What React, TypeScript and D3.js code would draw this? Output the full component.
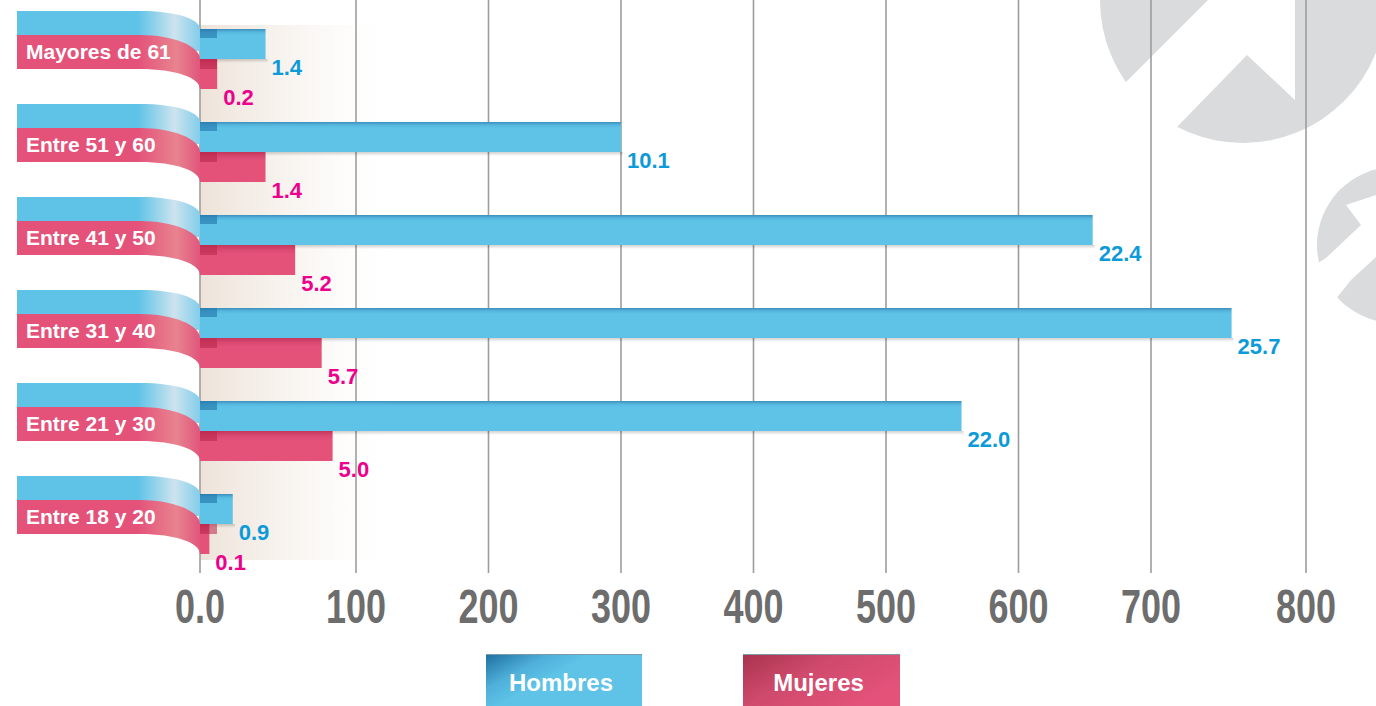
import React from "react";
import * as d3 from "d3";

const categories = ["Mayores de 61", "Entre 51 y 60", "Entre 41 y 50", "Entre 31 y 40", "Entre 21 y 30", "Entre 18 y 20"];
const hombres = [42, 300, 656, 752, 557, 21];
const mujeres = [11, 42, 61, 78, 85, 6];
const hombresLabels = ["1.4", "10.1", "22.4", "25.7", "22.0", "0.9"];
const mujeresLabels = ["0.2", "1.4", "5.2", "5.7", "5.0", "0.1"];
const tickValues = [0, 100, 200, 300, 400, 500, 600, 700, 800];
const tickLabels = ["0.0", "100", "200", "300", "400", "500", "600", "700", "800"];
const seriesNames = ["Hombres", "Mujeres"];

const FONT = "'Liberation Sans', Arial, Helvetica, sans-serif";
const BLUE = "#5ec3e7";
const PINK = "#e4527a";
const BLUE_TXT = "#0d9ad8";
const PINK_TXT = "#ec008c";
const LOGO = "#dadbdd";

export default function App() {
  const x = d3.scaleLinear().domain([0, 100, 700, 800]).range([200, 356, 1151, 1306]);
  const y = d3.scaleBand<string>().domain(categories).range([11, 569]);
  const x0 = x(0);

  const bluePath = (T: number) =>
    `M17,${T} L140,${T} C176,${T} ${x0},${T + 8} ${x0},${T + 18} L${x0},${T + 40} L17,${T + 40} Z`;
  const pinkPath = (T: number) =>
    `M17,${T + 24} L140,${T + 24} C173,${T + 24} ${x0},${T + 35} ${x0},${T + 48} L${x0},${T + 78} C${x0},${T + 67} 176,${T + 58} 140,${T + 58} L17,${T + 58} Z`;

  const legendX = [486, 743];
  const legendW = [156, 157];

  return (
    <svg width={1376} height={706} style={{ position: "absolute", left: 0, top: 0, background: "#fff" }}>
      <defs>
        <linearGradient id="ribBlue" gradientUnits="userSpaceOnUse" x1={17} x2={x0} y1={0} y2={0}>
          <stop offset="0" stopColor={BLUE} />
          <stop offset="0.66" stopColor={BLUE} />
          <stop offset="0.86" stopColor="#cde3ee" />
          <stop offset="1" stopColor="#82cdea" />
        </linearGradient>
        <linearGradient id="ribPink" gradientUnits="userSpaceOnUse" x1={17} x2={x0} y1={0} y2={0}>
          <stop offset="0" stopColor={PINK} />
          <stop offset="0.66" stopColor={PINK} />
          <stop offset="0.87" stopColor="#e8838f" />
          <stop offset="1" stopColor="#e0567c" />
        </linearGradient>
        <linearGradient id="beige" x1="0" x2="1" y1="0" y2="0">
          <stop offset="0" stopColor="#ece1d7" stopOpacity="0.95" />
          <stop offset="0.5" stopColor="#f5efe9" stopOpacity="0.6" />
          <stop offset="1" stopColor="#ffffff" stopOpacity="0" />
        </linearGradient>
        <linearGradient id="barBlue" x1="0" x2="0" y1="0" y2="1">
          <stop offset="0" stopColor="#3d8fba" />
          <stop offset="0.1" stopColor="#55b6de" />
          <stop offset="0.2" stopColor={BLUE} />
          <stop offset="1" stopColor={BLUE} />
        </linearGradient>
        <linearGradient id="barPink" x1="0" x2="0" y1="0" y2="1">
          <stop offset="0" stopColor="#c4365c" />
          <stop offset="0.15" stopColor="#d84870" />
          <stop offset="0.3" stopColor={PINK} />
          <stop offset="1" stopColor={PINK} />
        </linearGradient>
        <linearGradient id="shadow" x1="0" x2="0" y1="0" y2="1">
          <stop offset="0" stopColor="#000" stopOpacity="0.18" />
          <stop offset="1" stopColor="#000" stopOpacity="0" />
        </linearGradient>
        <linearGradient id="legBlue" x1="0" x2="1" y1="0" y2="0.6">
          <stop offset="0" stopColor="#1e6f9f" />
          <stop offset="0.3" stopColor="#4fb0da" />
          <stop offset="0.5" stopColor={BLUE} />
          <stop offset="1" stopColor={BLUE} />
        </linearGradient>
        <linearGradient id="legPink" x1="0" x2="1" y1="0" y2="0.6">
          <stop offset="0" stopColor="#a8334f" />
          <stop offset="0.45" stopColor="#cf4a6c" />
          <stop offset="1" stopColor={PINK} />
        </linearGradient>
      </defs>

      {/* watermark logos */}
      <g>
        <circle cx={1243} cy={0} r={143} fill={LOGO} />
        <polygon points="1126,82 1210,-2 1295,-2 1295,100 1247,55 1177,127 1100,170 1080,100" fill="#fff" />
        <circle cx={1395} cy={245} r={78} fill={LOGO} />
        <polygon points="1400,187 1346,205 1361,225 1326,258 1300,275 1335,300 1351,280 1400,235" fill="#fff" />
      </g>

      {/* beige shading */}
      <rect x={x0} y={25} width={200} height={535} fill="url(#beige)" />

      {/* gridlines */}
      {tickValues.map((t) => (
        <line key={t} x1={x(t)} x2={x(t)} y1={0} y2={573} stroke="#9d9d9d" strokeWidth={1.6} />
      ))}

      {/* ribbons */}
      {categories.map((c) => {
        const T = y(c)!;
        return (
          <g key={c}>
            <path d={bluePath(T)} fill="url(#ribBlue)" />
            <path d={pinkPath(T)} fill="url(#ribPink)" />
            <text x={26} y={T + 48} fill="#fff" fontFamily={FONT} fontWeight="bold" fontSize={21}>
              {c}
            </text>
          </g>
        );
      })}

      {/* bars */}
      {categories.map((c, i) => {
        const T = y(c)!;
        const hy = T + 18;
        const my = T + 48;
        return (
          <g key={c}>
            <rect x={x0} y={hy + 30} width={x(hombres[i]) - x0 + 2} height={4} fill="url(#shadow)" />
            <rect x={x0} y={my} width={x(mujeres[i]) - x0} height={30} fill="url(#barPink)" />
            <rect x={x0} y={my} width={17} height={10} fill="#b82447" opacity={0.55} />
            <rect x={x0} y={hy} width={x(hombres[i]) - x0} height={30} fill="url(#barBlue)" />
            <rect x={x0} y={hy} width={17} height={9} fill="#1f73a8" opacity={0.6} />
            <text x={x(hombres[i]) + 6} y={hy + 46} fill={BLUE_TXT} fontFamily={FONT} fontWeight="bold" fontSize={22}>
              {hombresLabels[i]}
            </text>
            <text x={x(mujeres[i]) + 6} y={my + 46} fill={PINK_TXT} fontFamily={FONT} fontWeight="bold" fontSize={22}>
              {mujeresLabels[i]}
            </text>
          </g>
        );
      })}

      {/* tick labels */}
      {tickValues.map((t, i) => (
        <text
          key={t}
          transform={`translate(${x(t)},623) scale(0.75,1)`}
          textAnchor="middle"
          fill="#6d6d6d"
          fontFamily={FONT}
          fontWeight="bold"
          fontSize={48}
        >
          {tickLabels[i]}
        </text>
      ))}

      {/* legend */}
      {seriesNames.map((s, i) => (
        <g key={s}>
          <rect x={legendX[i]} y={654} width={legendW[i]} height={52} fill={i === 0 ? "url(#legBlue)" : "url(#legPink)"} />
          <line x1={legendX[i]} x2={legendX[i] + legendW[i]} y1={654.5} y2={654.5} stroke="#7d9aa8" strokeWidth={1} />
          <text
            x={legendX[i] + legendW[i] / 2 - 3}
            y={691}
            textAnchor="middle"
            fill="#fff"
            fontFamily={FONT}
            fontWeight="bold"
            fontSize={24}
          >
            {s}
          </text>
        </g>
      ))}
    </svg>
  );
}
